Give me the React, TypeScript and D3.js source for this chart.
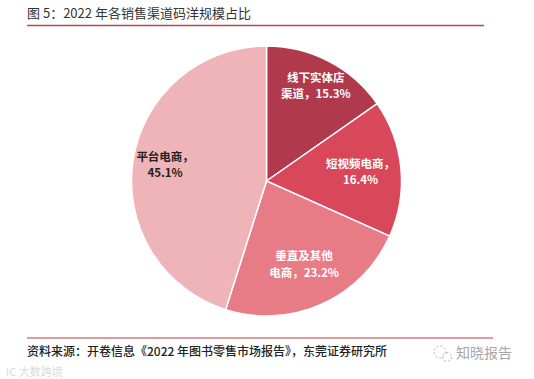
import React from "react";
import * as d3 from "d3";

const categories = ["线下实体店渠道", "短视频电商", "垂直及其他电商", "平台电商"];
const values = [15.3, 16.4, 23.2, 45.1];
const labelLines = [
  ["线下实体店", "渠道，15.3%"],
  ["短视频电商，", "16.4%"],
  ["垂直及其他", "电商，23.2%"],
  ["平台电商，", "45.1%"],
];
const colors = ["#b0394b", "#d8475a", "#e77c87", "#eeb4b8"];
const labelColors = ["#ffffff", "#ffffff", "#ffffff", "#222222"];
const labelRadiusFactor = [0.79, 0.7, 0.68, 0.76];

const W = 534;
const H = 379;
const cx = 266.5;
const cy = 181;
const R = 135;
const CJK = "'Noto Sans CJK SC', 'Noto Sans', sans-serif";

export default function App() {
  const pie = d3
    .pie<number>()
    .sort(null)
    .value((d) => d)
    .startAngle(0)
    .endAngle(2 * Math.PI);
  const arcs = pie(values);
  const arc = d3.arc<d3.PieArcDatum<number>>().innerRadius(0).outerRadius(R);

  return (
    <svg
      width={W}
      height={H}
      style={{ position: "fixed", left: 0, top: 0, background: "#fff" }}
      fontFamily={CJK}
    >
      <rect x={0} y={0} width={W} height={H} fill="#fff" />
      {/* Title */}
      <text x={27} y={18} fontSize={13} fill="#333">
        图 5：2022 年各销售渠道码洋规模占比
      </text>
      <line x1={27} x2={484} y1={25.5} y2={25.5} stroke="#b8474c" strokeWidth={1.6} />

      {/* Pie */}
      <g transform={`translate(${cx},${cy})`}>
        {arcs.map((a, i) => (
          <path
            key={categories[i]}
            d={arc(a) || ""}
            fill={colors[i]}
            stroke="#fff"
            strokeWidth={1.5}
          />
        ))}
        {arcs.map((a, i) => {
          const mid = (a.startAngle + a.endAngle) / 2;
          const lr = R * labelRadiusFactor[i];
          const x = Math.sin(mid) * lr;
          const y = -Math.cos(mid) * lr;
          return (
            <text
              key={"l" + i}
              x={x}
              y={y}
              textAnchor="middle"
              fontSize={11.5}
              fontWeight={700}
              fill={labelColors[i]}
            >
              {labelLines[i].map((t, j) => (
                <tspan key={j} x={x} y={y - 4.5 + j * 16.5}>
                  {t}
                </tspan>
              ))}
            </text>
          );
        })}
      </g>

      {/* Footer */}
      <line x1={27} x2={493} y1={338} y2={338} stroke="#d97a7b" strokeWidth={1.5} />
      <text x={27} y={356} fontSize={12} fill="#222" fontWeight={500}>
        资料来源：开卷信息《2022 年图书零售市场报告》，东莞证券研究所
      </text>

      {/* Watermarks */}
      <g opacity={0.75}>
        <circle cx={440} cy={352} r={6} fill="none" stroke="#999" strokeWidth={1} strokeDasharray="2 2" />
        <circle cx={447} cy={357} r={4.5} fill="none" stroke="#999" strokeWidth={1} strokeDasharray="2 2" />
        <text x={456} y={358} fontSize={14} fill="#888">
          知晓报告
        </text>
      </g>
      <g opacity={0.35}>
        <text x={6} y={376} fontSize={11} fill="#999">
          IC 大数跨境
        </text>
      </g>
    </svg>
  );
}
